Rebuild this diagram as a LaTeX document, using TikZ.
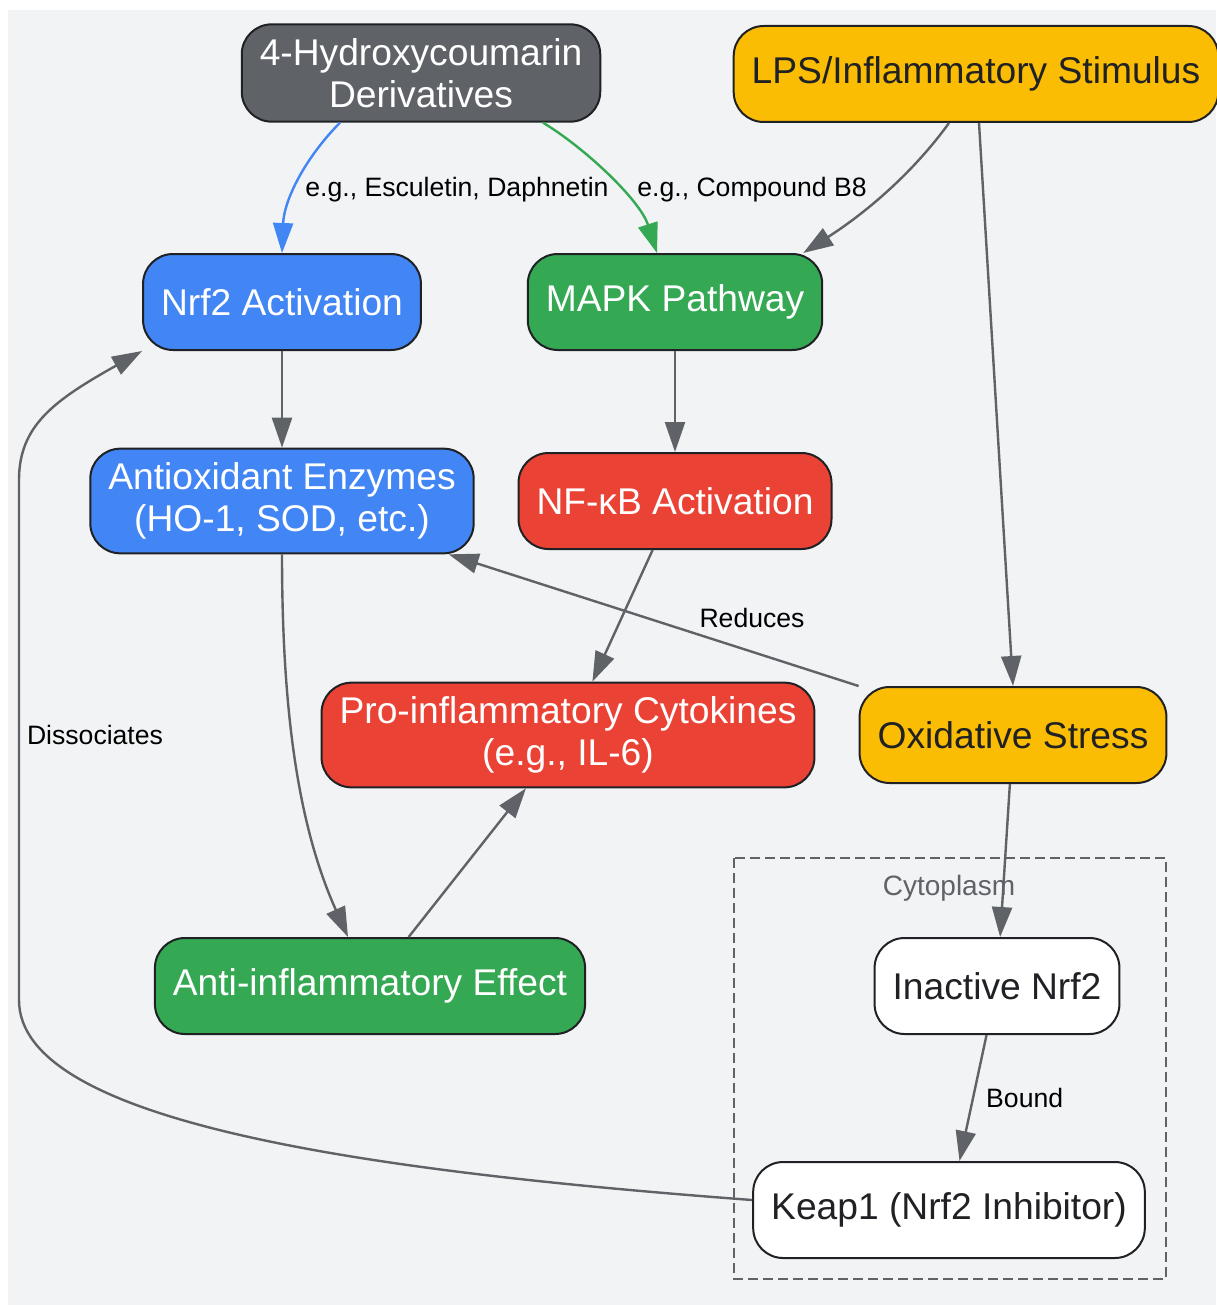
\documentclass[tikz,border=0pt]{standalone}
\usepackage{fontspec}
\setmainfont{Liberation Sans}
\usetikzlibrary{arrows.meta,calc,positioning}
\definecolor{bggray}{HTML}{F1F3F4}
\definecolor{boxline}{HTML}{202124}
\definecolor{darkgray}{HTML}{5F6368}
\definecolor{gyellow}{HTML}{FBBC04}
\definecolor{gblue}{HTML}{4285F4}
\definecolor{ggreen}{HTML}{34A853}
\definecolor{gred}{HTML}{EA4335}
\tikzset{
  box/.style={draw=boxline, line width=1pt, rounded corners=15pt, minimum height=48pt,
    inner xsep=9pt, inner ysep=7pt, align=center, font=\fontsize{18.6}{21}\selectfont},
  flow/.style={draw=darkgray, line width=1.2pt, -{Triangle[length=15pt,width=10pt]}},
  lbl/.style={font=\fontsize{13.3}{15}\selectfont, inner sep=1pt, text=black}
}
\begin{document}
\begin{tikzpicture}[x=0.5pt,y=-0.5pt]
        \useasboundingbox (0,0) rectangle (1216,1305);
        \fill[bggray](8,10) rectangle (1216,1305);
        \draw[darkgray, line width=1pt, dash pattern=on 5pt off 2.5pt](734,858) rectangle (1166,1279);
        \node[text=darkgray, font=\fontsize{14}{16}\selectfont] (cyto) at (949,888) {Cytoplasm};
        \node[box, fill=darkgray, text=white] (hc) at (421,73) {4-Hydroxycoumarin\\Derivatives};
        \node[box, fill=gyellow, text=boxline] (lps) at (976,74) {LPS/Inflammatory Stimulus};
        \node[box, fill=gblue, text=white] (nrf2act) at (282,302) {Nrf2 Activation};
        \node[box, fill=ggreen, text=white] (mapk) at (675,302) {MAPK Pathway};
        \node[box, fill=gblue, text=white] (antiox) at (282,501) {Antioxidant Enzymes\\(HO-1, SOD, etc.)};
        \node[box, fill=gred, text=white] (nfkb) at (675,501) {NF-κB Activation};
        \node[box, fill=gred, text=white] (cytok) at (568,735) {Pro-inflammatory Cytokines\\(e.g., IL-6)};
        \node[box, fill=gyellow, text=boxline] (oxstress) at (1013,735) {Oxidative Stress};
        \node[box, fill=ggreen, text=white] (antiinf) at (370,986) {Anti-inflammatory Effect};
        \node[box, fill=white, text=boxline] (inactive) at (997,986) {Inactive Nrf2};
        \node[box, fill=white, text=boxline] (keap1) at (949,1210) {Keap1 (Nrf2 Inhibitor)};
        \draw[flow, draw=gblue]($(hc.south)+(-81,0)$) .. controls (305,158) and (284,200) .. (nrf2act.north)
            node[lbl] at (457,190) {e.g., Esculetin, Daphnetin};
        \draw[flow, draw=ggreen]($(hc.south)+(122,0)$) .. controls (585,148) and (640,200) .. ($(mapk.north)+(-18,0)$)
            node[lbl] at (752,190) {e.g., Compound B8};
        \draw[flow]($(lps.south)+(-27,0)$) .. controls (915,170) and (870,210) .. ($(mapk.north east)+(-20,0)$);
        \draw[flow]($(lps.south)+(3,0)$)--(oxstress.north);
        \draw[flow](nrf2act)--(antiox);
        \draw[flow](mapk)--(nfkb);
        \draw[flow](nfkb)--(cytok);
        \draw[flow](oxstress.north west)--($(antiox.south east)+(-26,0)$)
            node[lbl] at (752,618) {Reduces};
        \draw[flow](antiox.south) .. controls (282,720) and (300,830) .. ($(antiinf.north)+(-22,0)$);
        \draw[flow](antiinf)--(cytok);
        \draw[flow](oxstress)--(inactive);
        \draw[flow](inactive)--(keap1) node[lbl, midway, right=5pt] {Bound};
        \draw[flow]($(keap1.west)+(0,-10)$) .. controls (350,1170) and (19,1120) .. (19,1000)--(19,480)
            .. controls (19,425) and (55,400) .. (nrf2act.south west)
            node[lbl] at (95,735) {Dissociates};
    \end{tikzpicture}
\end{document}
